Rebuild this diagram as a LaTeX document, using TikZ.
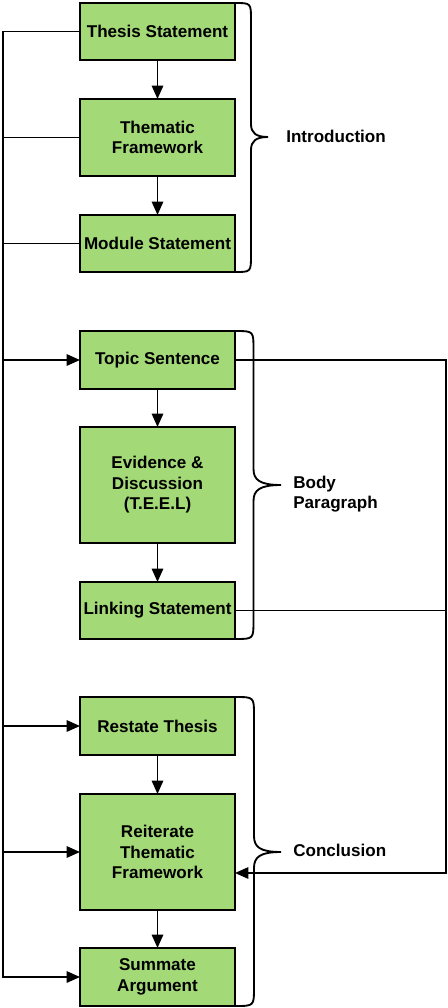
\documentclass[tikz,border=0pt]{standalone}
\usepackage{fontspec}
\setmainfont{Liberation Sans}
\usetikzlibrary{arrows.meta}
\definecolor{boxgreen}{HTML}{A3D977}
\tikzset{
  box/.style={draw=black, fill=boxgreen, line width=1.4pt, inner sep=0pt, outer sep=0pt,
    minimum width=116.25pt, align=center, font=\fontsize{12.8pt}{15.4pt}\selectfont\bfseries},
  conn/.style={draw=black, line width=1.4pt},
  arr/.style={conn, -{Triangle[length=10pt, width=8.5pt]}},
  brace/.style={draw=black, line width=1.4pt},
  lbl/.style={anchor=west, inner sep=0pt, align=left, font=\fontsize{12.8pt}{15.4pt}\selectfont\bfseries}
}
\begin{document}
\begin{tikzpicture}[x=0.75pt, y=-0.75pt]
\useasboundingbox (0,0) rectangle (448,1008);
% boxes
\node[box, minimum height=42.75pt] (thesis) at (157.5,31.5) {Thesis Statement};
\node[box, minimum height=57.75pt] (frame) at (157.5,137.5) {Thematic\\Framework};
\node[box, minimum height=42.75pt] (module) at (157.5,243.5) {Module Statement};
\node[box, minimum height=43.5pt] (topic) at (157.5,360) {Topic Sentence};
\node[box, minimum height=87pt] (evid) at (157.5,485) {Evidence \&\\Discussion\\(T.E.E.L)};
\node[box, minimum height=42.75pt] (link) at (157.5,610.5) {Linking Statement};
\node[box, minimum height=43.5pt] (restate) at (157.5,726) {Restate Thesis};
\node[box, minimum height=87pt] (reit) at (157.5,852) {Reiterate\\Thematic\\Framework};
\node[box, minimum height=43.5pt] (summ) at (157.5,977) {Summate\\Argument};
% labels
\node[lbl] (lintro) at (286,136) {Introduction};
\node[lbl] (lbody) at (293,494) {Body\\Paragraph};
\node[lbl] (lconc) at (293,850) {Conclusion};
% trunk coordinates
\coordinate (L) at (3,31.5);
\coordinate (Rin) at (446,873);
% vertical arrows
\draw[arr] (thesis) -- (frame);
\draw[arr] (frame) -- (module);
\draw[arr] (topic) -- (evid);
\draw[arr] (evid) -- (link);
\draw[arr] (restate) -- (reit);
\draw[arr] (reit) -- (summ);
% left trunk
\draw[arr] (thesis.west) -- (L) -- (summ.west -| L) -- (summ.west);
\draw[conn] (frame.west) -- (frame.west -| L);
\draw[conn] (module.west) -- (module.west -| L);
\draw[arr] (topic.west -| L) -- (topic.west);
\draw[arr] (restate.west -| L) -- (restate.west);
\draw[arr] (reit.west -| L) -- (reit.west);
% right loop
\draw[arr] (topic.east) -- (topic.east -| Rin) -- (Rin) -- (Rin -| reit.east);
\draw[conn] (link.east) -- (link.east -| Rin);
% braces
\draw[brace] (235,3) .. controls (251,3) .. (251,20) -- (251,124)
  .. controls (251,133) and (256,137) .. (268,137)
  .. controls (256,137) and (251,141) .. (251,150) -- (251,255)
  .. controls (251,272) .. (235,272);
\draw[brace] (235,331) .. controls (253.5,331) .. (253.5,349) -- (253.5,469)
  .. controls (253.5,480) and (260,485) .. (281,485)
  .. controls (260,485) and (253.5,490) .. (253.5,501) -- (253.5,621)
  .. controls (253.5,639) .. (235,639);
\draw[brace] (235,697) .. controls (254,697) .. (254,715) -- (254,836)
  .. controls (254,847) and (260,852) .. (281,852)
  .. controls (260,852) and (254,857) .. (254,868) -- (254,988)
  .. controls (254,1006) .. (235,1006);
\end{tikzpicture}
\end{document}
